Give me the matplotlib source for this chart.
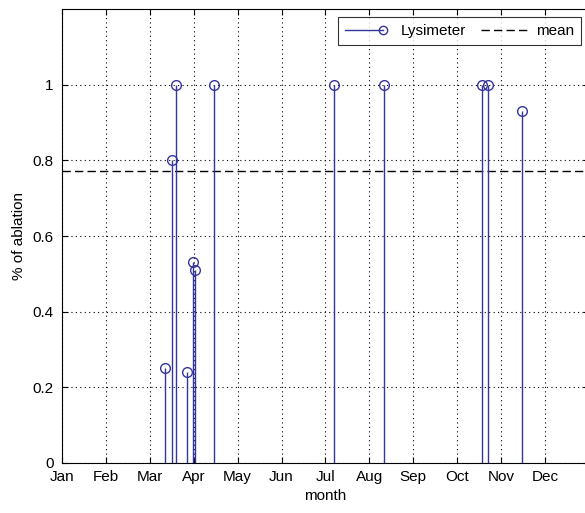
import matplotlib
matplotlib.use("Agg")
import matplotlib.pyplot as plt
import numpy as np
from matplotlib.lines import Line2D
from matplotlib.legend_handler import HandlerBase

# sampling dates as fractional month number (1 = start of Jan)
months = [3.34, 3.505, 3.60, 3.84, 3.99, 4.03, 4.47, 7.20, 8.34, 10.57, 10.70, 11.47]
ablation = [0.25, 0.80, 1.00, 0.24, 0.53, 0.51, 1.00, 1.00, 1.00, 1.00, 1.00, 0.93]

month_names = ['Jan', 'Feb', 'Mar', 'Apr', 'May', 'Jun',
               'Jul', 'Aug', 'Sep', 'Oct', 'Nov', 'Dec']
yticks = [0, 0.2, 0.4, 0.6, 0.8, 1]
ytick_labels = ['0', '0.2', '0.4', '0.6', '0.8', '1']

stem_col = '#3535a0'
fs = 11

plt.rcParams['font.family'] = ['Liberation Sans', 'DejaVu Sans']


class StemHandler(HandlerBase):
    """legend key: line with an open circle at its end"""
    def create_artists(self, legend, orig_handle, xdescent, ydescent,
                       width, height, fontsize, trans):
        y = height / 2 - ydescent
        x0 = -xdescent
        x1 = width - xdescent - 0.6 * fontsize
        line = Line2D([x0, x1], [y, y], color=stem_col, lw=1)
        mark = Line2D([x1], [y], marker='o', ms=6, mfc='none',
                      mec=stem_col, mew=1, ls='none')
        line.set_transform(trans)
        mark.set_transform(trans)
        return [line, mark]


fig = plt.figure(figsize=(5.85, 5.13), dpi=100)
ax = fig.add_axes([62/585, 50/513, 527/585, 454/513])

# stems
ax.vlines(months, 0, ablation, color=stem_col, lw=1, zorder=3)
ax.plot(months, ablation, 'o', ms=7, mfc='none', mec=stem_col, mew=1, zorder=4)

# mean line
mean_val = np.mean(ablation)
ax.axhline(mean_val, color='black', lw=1, dashes=(6, 3), zorder=2)

ax.set_xlim(1, 13)
ax.set_ylim(0, 1.2)
ax.set_xticks(range(1, 13))
ax.set_xticklabels(month_names)
ax.set_yticks(yticks)
ax.set_yticklabels(ytick_labels)
ax.tick_params(direction='in', length=4, width=0.8, top=True, right=True,
               labelsize=fs, colors='black')
ax.tick_params(axis='x', pad=5)
ax.tick_params(axis='y', pad=6)

ax.grid(True, color='black', ls=(0, (1, 3)), lw=0.8)
for s in ax.spines.values():
    s.set_color('black')
    s.set_linewidth(0.8)

ax.set_xlabel('month', fontsize=fs, labelpad=4)
ax.set_ylabel('% of ablation', fontsize=fs, labelpad=5)

h_stem = Line2D([], [], color=stem_col)
h_mean = Line2D([], [], color='black', lw=1, dashes=(6, 3))
leg = ax.legend([h_stem, h_mean], ['Lysimeter', 'mean'], ncol=2,
                loc='upper right', bbox_to_anchor=(580/589, 1 - 8/454),
                handler_map={h_stem: StemHandler()},
                fontsize=fs, frameon=True, fancybox=False, borderaxespad=0,
                handlelength=3.1, columnspacing=1.0, handletextpad=0.5,
                borderpad=0.45)
leg.get_frame().set_edgecolor('black')
leg.get_frame().set_linewidth(0.8)

fig.savefig('out.png', dpi=100)
